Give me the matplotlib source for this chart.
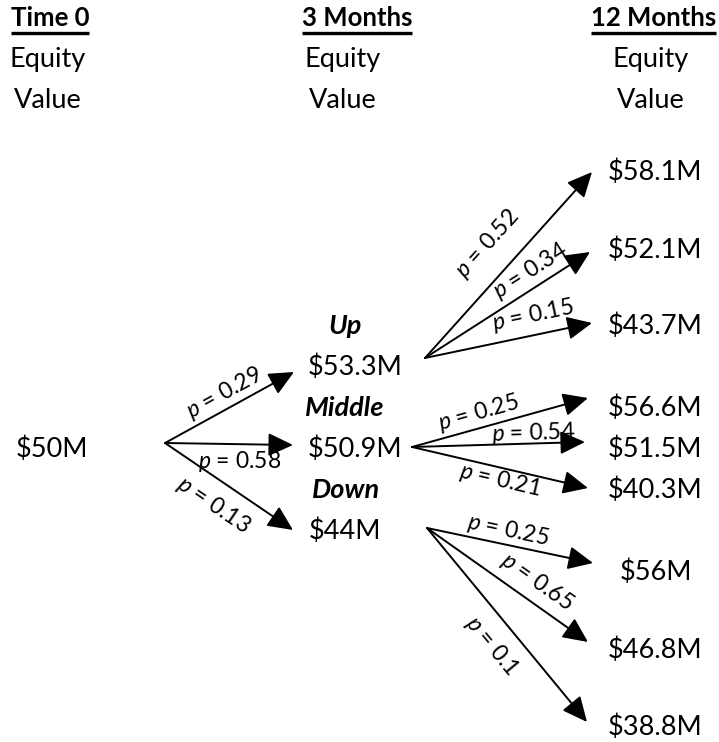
import matplotlib
matplotlib.use("Agg")
import matplotlib.pyplot as plt
import numpy as np

plt.rcParams['font.family'] = ['Lato', 'DejaVu Sans']
plt.rcParams['mathtext.fontset'] = 'custom'
plt.rcParams['mathtext.it'] = 'Lato:italic'
plt.rcParams['mathtext.rm'] = 'Lato'

# data
headers = ["Time 0", "3 Months", "12 Months"]
root_value = "$50M"
mid_names = ["Up", "Middle", "Down"]
mid_values = ["$53.3M", "$50.9M", "$44M"]
root_probs = [0.29, 0.58, 0.13]
leaf_values = [["$58.1M", "$52.1M", "$43.7M"],
               ["$56.6M", "$51.5M", "$40.3M"],
               ["$56M", "$46.8M", "$38.8M"]]
leaf_probs = [[0.52, 0.34, 0.15],
              [0.25, 0.54, 0.21],
              [0.25, 0.65, 0.1]]

# layout (pixel coords, y downward)
W, H = 719, 742
fs = 19.5
hfs = 18.5
pfs = 16.5
header_x = [50, 357, 716]
header_ha = ['center', 'center', 'right']
sub_x = [48, 343, 651]
root_xy = (52, 449)
root_src = (165, 443)
root_tips = [(294, 372), (293, 445), (293, 530)]
root_lab = [(224, 393), (240, 462), (213, 505)]
name_xy = [(345, 326), (345, 408), (346, 490)]
mid_xy = [(355, 367), (355, 449), (345, 531)]
mid_src = [(425, 358), (412, 447), (427, 528)]
leaf_tips = [[(592, 172), (590, 252), (592, 323)],
             [(588, 398), (585, 442), (588, 488)],
             [(593, 563), (588, 642), (587, 722)]]
leaf_xy = [[(655, 172), (655, 250), (655, 326)],
           [(655, 408), (655, 449), (655, 490)],
           [(656, 572), (655, 650), (655, 727)]]
leaf_lab = [[(487, 244), (530, 271), (533, 315)],
            [(478, 413), (533, 433), (500, 480)],
            [(508, 530), (537, 582), (492, 646)]]

fig = plt.figure(figsize=(W / 100, H / 100), dpi=100)
ax = fig.add_axes([0, 0, 1, 1])
ax.set_xlim(0, W)
ax.set_ylim(H, 0)
ax.axis('off')


def angle(a, b):
    return np.degrees(np.arctan2(-(b[1] - a[1]), b[0] - a[0]))


def arrow(a, b):
    ax.annotate("", xy=b, xytext=a,
                arrowprops=dict(arrowstyle="-|>,head_length=0.9,head_width=0.42",
                                mutation_scale=17, lw=1.4, color='black',
                                shrinkA=0, shrinkB=0))


def plabel(xy, p, rot):
    ax.text(xy[0], xy[1], r"$p$ = " + f"{p:g}", fontsize=pfs,
            ha='center', va='center', rotation=rot, rotation_mode='anchor')


# headers
htexts = []
for i, h in enumerate(headers):
    t = ax.text(header_x[i], 18, h, fontsize=hfs, fontweight='bold',
                ha=header_ha[i], va='center')
    htexts.append(t)
    ax.text(sub_x[i], 60, "Equity", fontsize=fs, ha='center', va='center')
    ax.text(sub_x[i], 100, "Value", fontsize=fs, ha='center', va='center')

fig.canvas.draw()
inv = ax.transData.inverted()
for t in htexts:
    bb = t.get_window_extent()
    x0, _ = inv.transform((bb.x0, 0))
    x1, _ = inv.transform((bb.x1, 0))
    ax.plot([x0, x1], [33, 33], color='black', lw=2.4, solid_capstyle='butt')

ax.text(root_xy[0], root_xy[1], root_value, fontsize=fs, ha='center', va='center')

for i in range(3):
    arrow(root_src, root_tips[i])
    rot = 0 if i == 1 else angle(root_src, root_tips[i])
    plabel(root_lab[i], root_probs[i], rot)
    ax.text(name_xy[i][0], name_xy[i][1], mid_names[i], fontsize=fs,
            fontweight='bold', fontstyle='italic', ha='center', va='center')
    ax.text(mid_xy[i][0], mid_xy[i][1], mid_values[i], fontsize=fs, ha='center', va='center')
    for j in range(3):
        arrow(mid_src[i], leaf_tips[i][j])
        plabel(leaf_lab[i][j], leaf_probs[i][j], angle(mid_src[i], leaf_tips[i][j]))
        ax.text(leaf_xy[i][j][0], leaf_xy[i][j][1], leaf_values[i][j], fontsize=fs,
                ha='center', va='center')

fig.savefig("out.png", dpi=100)
